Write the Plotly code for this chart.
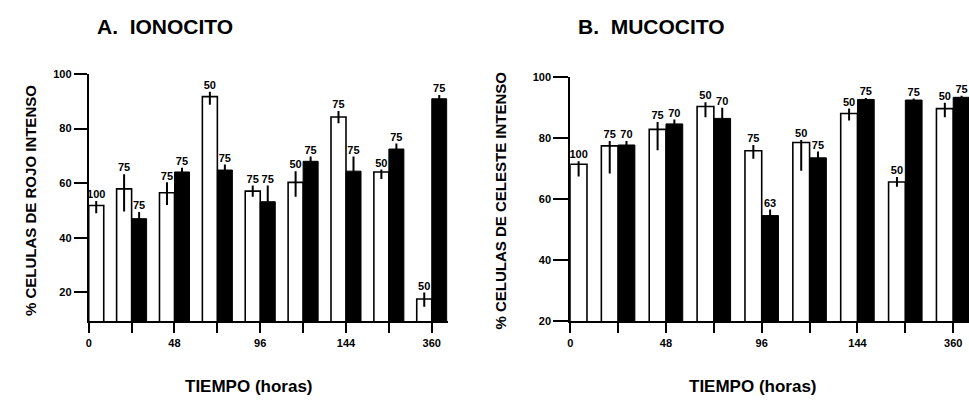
import plotly.graph_objects as go

# ---------------- data ----------------
tick_labels = ['0', '', '48', '', '96', '', '144', '', '360']

# A. IONOCITO
white_A = [51.8, 57.9, 56.5, 91.7, 57.1, 60.3, 84.2, 64.1, 17.6]
white_A_plus = [1.7, 5.4, 3.8, 1.8, 2.0, 4.1, 2.2, 0.9, 2.4]
white_A_minus = [2.8, 8.3, 4.5, 3.0, 2.1, 5.3, 2.3, 2.6, 2.9]
black_A = [None, 47.0, 64.1, 64.8, 53.2, 68.0, 64.4, 72.5, 90.9]
black_A_err = [0, 2.4, 1.5, 2.0, 5.9, 1.8, 5.4, 2.0, 1.4]
n_white_A = ['100', '75', '75', '50', '75', '50', '75', '50', '50']
n_black_A = ['', '75', '75', '75', '75', '75', '75', '75', '75']

# B. MUCOCITO
white_B = [71.4, 77.4, 82.8, 90.3, 75.8, 78.5, 88.0, 65.6, 89.6]
white_B_plus = [1.0, 1.6, 2.4, 1.4, 1.9, 0.8, 1.6, 1.6, 1.9]
white_B_minus = [4.0, 9.0, 6.8, 3.5, 2.6, 9.2, 2.3, 1.6, 2.8]
black_B = [None, 77.7, 84.6, 86.4, 54.6, 73.5, 92.6, 92.4, 93.3]
black_B_err = [0, 1.3, 1.4, 3.5, 2.0, 2.1, 0.5, 0.5, 0.5]
n_white_B = ['100', '75', '75', '50', '75', '50', '50', '50', '50']
n_black_B = ['', '70', '70', '70', '63', '75', '75', '75', '75']

# ---------------- style ----------------
FONT = "Liberation Sans, Arial, Helvetica, sans-serif"
BW = 0.35
pos = list(range(len(tick_labels)))
white_offset = [0] + [-BW] * (len(pos) - 1)

fig = go.Figure()


def add_panel(xa, ya, white, wp, wm, black, be, nw, nb):
    fig.add_trace(go.Bar(
        x=pos, y=white, width=BW, offset=white_offset,
        marker=dict(color='white', line=dict(color='black', width=1.6)),
        error_y=dict(type='data', symmetric=False, array=wp, arrayminus=wm,
                     color='black', thickness=2, width=0),
        xaxis=xa, yaxis=ya, showlegend=False))
    fig.add_trace(go.Bar(
        x=pos, y=black, width=BW, offset=0,
        marker=dict(color='black', line=dict(color='black', width=1)),
        error_y=dict(type='data', array=be, color='black', thickness=2, width=0),
        xaxis=xa, yaxis=ya, showlegend=False))
    # sample-size labels above error bars
    wx = [p + o + BW / 2 for p, o in zip(pos, white_offset)]
    wy = [v + e for v, e in zip(white, wp)]
    bx = [p + BW / 2 for p in pos]
    by = [(v + e) if v is not None else None for v, e in zip(black, be)]
    fig.add_trace(go.Scatter(
        x=wx + bx, y=wy + by, text=nw + nb, mode='text',
        textposition='top center', cliponaxis=False,
        textfont=dict(family=FONT, size=11, color='black', weight='bold'),
        xaxis=xa, yaxis=ya, showlegend=False, hoverinfo='skip'))


add_panel('x', 'y', white_A, white_A_plus, white_A_minus, black_A, black_A_err, n_white_A, n_black_A)
add_panel('x2', 'y2', white_B, white_B_plus, white_B_minus, black_B, black_B_err, n_white_B, n_black_B)

W, H = 969, 404
axis_common = dict(showline=True, linewidth=2, linecolor='black', showgrid=False,
                   zeroline=False, ticks='outside', tickwidth=2, tickcolor='black',
                   tickfont=dict(family=FONT, size=11, color='black', weight='bold'))

fig.update_layout(
    width=W, height=H, margin=dict(l=0, r=0, t=0, b=0),
    paper_bgcolor='white', plot_bgcolor='white', barmode='overlay',
    xaxis=dict(domain=[86 / W, 446 / W], range=[0, 8.37], tickvals=pos,
               ticktext=tick_labels, ticklen=10, anchor='y', **axis_common),
    yaxis=dict(domain=[1 - 325 / H, 1 - 70 / H], range=[9.4, 100],
               tickvals=[20, 40, 60, 80, 100], ticklen=13, anchor='x', **axis_common),
    xaxis2=dict(domain=[569 / W, 1.0], range=[0, 8.33], tickvals=pos,
                ticktext=tick_labels, ticklen=10, anchor='y2', **axis_common),
    yaxis2=dict(domain=[1 - 325 / H, 1 - 73 / H], range=[20, 100],
                tickvals=[20, 40, 60, 80, 100], ticklen=15, anchor='x2', **axis_common),
)

ann_font = dict(family=FONT, color='black', weight='bold')
annotations = [
    dict(text='A.  IONOCITO', x=163 / W, y=1 - 21 / H, font=dict(size=21, **ann_font)),
    dict(text='B.  MUCOCITO', x=651 / W, y=1 - 21 / H, font=dict(size=21, **ann_font)),
    dict(text='% CELULAS DE ROJO INTENSO', x=27 / W, y=1 - 200 / H, textangle=-90,
         font=dict(size=15, **ann_font)),
    dict(text='% CELULAS DE CELESTE INTENSO', x=499 / W, y=1 - 200 / H, textangle=-90,
         font=dict(size=15, **ann_font)),
    dict(text='TIEMPO (horas)', x=247 / W, y=1 - 392 / H, font=dict(size=17, **ann_font)),
    dict(text='TIEMPO (horas)', x=752 / W, y=1 - 392 / H, font=dict(size=17, **ann_font)),
]
for a in annotations:
    a.update(xref='paper', yref='paper', showarrow=False, xanchor='center', yanchor='middle')
fig.update_layout(annotations=annotations)

fig.write_html("out.html", config={'displayModeBar': False},
               post_script="document.body.style.margin='0px';document.body.style.padding='0px';")
